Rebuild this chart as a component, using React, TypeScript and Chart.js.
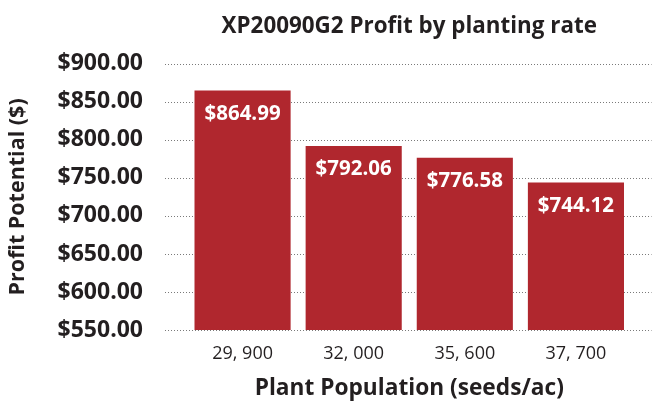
import React, { useEffect, useRef } from "react";
import { Chart, registerables } from "chart.js";

Chart.register(...registerables);

const categories = ["29, 900", "32, 000", "35, 600", "37, 700"];
const profitValues = [864.99, 792.06, 776.58, 744.12];
const yTicks = [550, 600, 650, 700, 750, 800, 850, 900];

const FONT = "'Open Sans'";
const TEXT = "#231f20";
const BAR = "#b0272e";

const gridPlugin = {
  id: "extGrid",
  beforeDatasetsDraw(chart: any) {
    const { ctx, chartArea, scales } = chart;
    const y = scales.y;
    ctx.save();
    ctx.strokeStyle = "#7a7a7a";
    ctx.lineWidth = 1;
    ctx.setLineDash([1, 2]);
    yTicks.forEach((v) => {
      const py = Math.round(y.getPixelForValue(v)) + 0.5;
      ctx.beginPath();
      ctx.moveTo(chartArea.left - 22, py);
      ctx.lineTo(chartArea.right + 20, py);
      ctx.stroke();
    });
    ctx.restore();
  },
};

const labelPlugin = {
  id: "barLabels",
  afterDatasetsDraw(chart: any) {
    const { ctx } = chart;
    const meta = chart.getDatasetMeta(0);
    ctx.save();
    ctx.fillStyle = "#ffffff";
    ctx.font = `bold 20.5px ${FONT}`;
    ctx.textAlign = "center";
    ctx.textBaseline = "middle";
    meta.data.forEach((bar: any, i: number) => {
      const v = profitValues[i];
      ctx.fillText("$" + v.toFixed(2), bar.x, bar.y + 23.5);
    });
    ctx.restore();
  },
};

export default function App() {
  const ref = useRef<HTMLCanvasElement>(null);
  useEffect(() => {
    if (!ref.current) return;
    const chart = new Chart(ref.current, {
      type: "bar",
      data: {
        labels: categories,
        datasets: [
          {
            data: profitValues,
            backgroundColor: BAR,
            barPercentage: 0.865,
            categoryPercentage: 1,
          },
        ],
      },
      options: {
        animation: false,
        responsive: true,
        maintainAspectRatio: false,
        layout: { padding: { left: 0, right: 20.5, top: 0, bottom: 0 } },
        plugins: {
          legend: { display: false },
          tooltip: { enabled: false },
          title: {
            display: true,
            text: "XP20090G2 Profit by planting rate",
            fullSize: false,
            color: TEXT,
            font: { family: FONT, size: 22.4, weight: "bold", lineHeight: 1.2 },
            padding: { top: 13, bottom: 24 },
          },
        },
        scales: {
          x: {
            grid: { display: false, drawTicks: false },
            border: { display: false },
            afterFit(scale: any) {
              scale.height = 73;
            },
            ticks: {
              color: TEXT,
              font: { family: FONT, size: 18 },
              padding: 13,
            },
            title: {
              display: true,
              text: "Plant Population (seeds/ac)",
              color: TEXT,
              font: { family: FONT, size: 22.7, weight: "bold", lineHeight: 1.2 },
              padding: { top: 0, bottom: 1 },
            },
          },
          y: {
            min: 550,
            max: 900,
            grid: { display: false, drawTicks: false },
            border: { display: false },
            afterFit(scale: any) {
              scale.width = 187;
            },
            ticks: {
              stepSize: 50,
              color: TEXT,
              padding: 44,
              font: { family: FONT, size: 23, weight: "bold" },
              callback: (v: any) => "$" + Number(v).toFixed(2),
            },
            title: {
              display: true,
              text: "Profit Potential ($)",
              color: TEXT,
              font: { family: FONT, size: 21.5, weight: "bold", lineHeight: 1.2 },
              padding: { top: 5, bottom: 0 },
            },
          },
        },
      },
      plugins: [gridPlugin, labelPlugin],
    });
    return () => chart.destroy();
  }, []);
  return (
    <div style={{ position: "fixed", left: 0, top: 0, width: 652, height: 403, background: "#fff" }}>
      <canvas ref={ref} />
    </div>
  );
}
